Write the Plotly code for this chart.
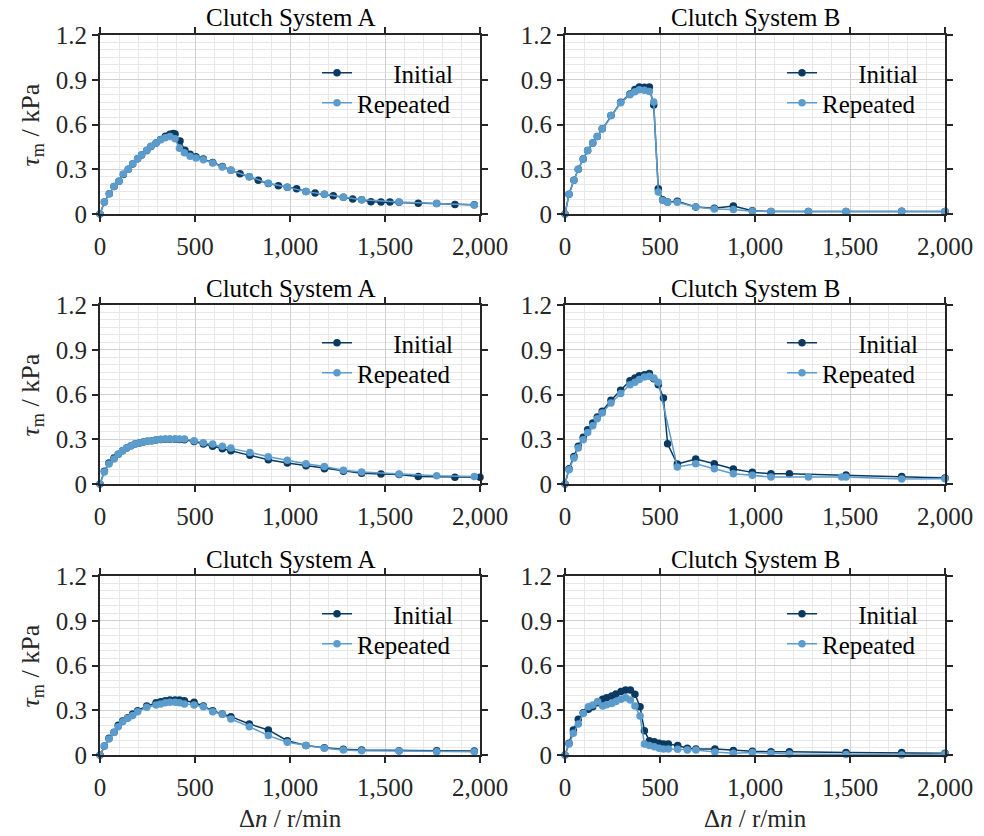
import plotly.graph_objects as go

# ---------------- data ----------------
x_ticks = [0, 500, 1000, 1500, 2000]
x_tick_labels = ["0", "500", "1,000", "1,500", "2,000"]
y_ticks = [0, 0.3, 0.6, 0.9, 1.2]
y_tick_labels = ["0", "0.3", "0.6", "0.9", "1.2"]
series_names = ["Initial", "Repeated"]
panel_titles = ["Clutch System A", "Clutch System B"] * 3

# Row 1, Clutch System A
a1_init_x = [0, 23, 49, 74, 100, 123, 149, 172, 198, 219, 246, 268, 295, 319, 344, 368, 385, 395, 421, 447,
             474, 505, 544, 593, 644, 689, 737, 786, 833, 886, 939, 986, 1035, 1084, 1132, 1181, 1228, 1281,
             1330, 1377, 1426, 1479, 1526, 1574, 1675, 1772, 1868, 1970]
a1_init_y = [0, 0.08, 0.136, 0.185, 0.22, 0.265, 0.30, 0.335, 0.37, 0.395, 0.425, 0.452, 0.476, 0.50, 0.522,
             0.535, 0.54, 0.536, 0.49, 0.427, 0.40, 0.383, 0.368, 0.345, 0.318, 0.293, 0.27, 0.25, 0.226, 0.205,
             0.19, 0.179, 0.17, 0.15, 0.14, 0.132, 0.123, 0.112, 0.10, 0.095, 0.082, 0.08, 0.08, 0.078, 0.072,
             0.07, 0.063, 0.062]
a1_rep_x = [0, 23, 49, 74, 100, 123, 149, 172, 198, 219, 246, 268, 295, 319, 344, 368, 395, 418, 444, 474, 505,
            544, 593, 644, 689, 786, 886, 986, 1084, 1181, 1281, 1377, 1574, 1772, 1970]
a1_rep_y = [0, 0.08, 0.136, 0.185, 0.22, 0.268, 0.30, 0.337, 0.37, 0.395, 0.427, 0.454, 0.476, 0.498, 0.512,
            0.52, 0.505, 0.44, 0.41, 0.387, 0.375, 0.364, 0.342, 0.315, 0.293, 0.25, 0.206, 0.179, 0.15, 0.132,
            0.112, 0.096, 0.08, 0.07, 0.06]

# Row 1, Clutch System B
b1_init_x = [0, 21, 47, 70, 96, 119, 146, 170, 196, 242, 293, 342, 368, 391, 418, 444, 467, 491, 514, 540, 591,
             688, 786, 886, 986, 1084, 1281, 1479, 1772, 2000]
b1_init_y = [0, 0.132, 0.226, 0.30, 0.369, 0.425, 0.476, 0.52, 0.572, 0.66, 0.749, 0.805, 0.834, 0.851, 0.849,
             0.851, 0.73, 0.17, 0.096, 0.08, 0.085, 0.047, 0.038, 0.054, 0.022, 0.016, 0.016, 0.016, 0.018, 0.016]
b1_rep_x = [0, 21, 47, 70, 96, 119, 146, 170, 196, 242, 293, 342, 368, 391, 418, 444, 467, 491, 514, 540, 591,
            688, 786, 886, 986, 1084, 1281, 1479, 1772, 2000]
b1_rep_y = [0, 0.132, 0.226, 0.30, 0.369, 0.425, 0.476, 0.52, 0.572, 0.66, 0.745, 0.80, 0.82, 0.833, 0.83,
            0.822, 0.75, 0.148, 0.09, 0.078, 0.078, 0.047, 0.034, 0.031, 0.018, 0.016, 0.016, 0.016, 0.018, 0.016]

# Row 2, Clutch System A
a2_init_x = [0, 23, 47, 74, 96, 119, 140, 163, 184, 207, 228, 249, 272, 295, 319, 344, 368, 395, 418, 444, 495,
             544, 593, 644, 689, 789, 886, 986, 1084, 1181, 1281, 1377, 1479, 1574, 1675, 1868, 2000]
a2_init_y = [0, 0.085, 0.14, 0.174, 0.2, 0.223, 0.241, 0.257, 0.268, 0.275, 0.282, 0.286, 0.29, 0.295, 0.298,
             0.30, 0.30, 0.30, 0.298, 0.296, 0.285, 0.268, 0.253, 0.237, 0.223, 0.192, 0.163, 0.141, 0.123, 0.103,
             0.085, 0.072, 0.067, 0.063, 0.051, 0.045, 0.045]
a2_rep_x = [0, 23, 47, 74, 96, 119, 140, 163, 184, 207, 228, 249, 272, 295, 319, 344, 368, 395, 418, 444, 495,
            544, 593, 644, 689, 789, 886, 986, 1084, 1181, 1281, 1377, 1574, 1772, 1970]
a2_rep_y = [0, 0.08, 0.134, 0.168, 0.2, 0.223, 0.241, 0.257, 0.268, 0.275, 0.282, 0.286, 0.29, 0.295, 0.30,
            0.302, 0.302, 0.302, 0.302, 0.302, 0.29, 0.277, 0.268, 0.253, 0.241, 0.212, 0.183, 0.159, 0.136, 0.118,
            0.092, 0.08, 0.067, 0.056, 0.051]

# Row 2, Clutch System B
b2_init_x = [0, 21, 47, 70, 96, 119, 146, 170, 196, 242, 293, 342, 368, 391, 418, 444, 467, 491, 518, 540, 591,
             688, 786, 886, 986, 1084, 1181, 1479, 1772, 2000]
b2_init_y = [0, 0.103, 0.185, 0.253, 0.313, 0.364, 0.409, 0.449, 0.487, 0.561, 0.628, 0.693, 0.711, 0.726,
             0.733, 0.74, 0.706, 0.666, 0.577, 0.27, 0.134, 0.168, 0.136, 0.10, 0.078, 0.069, 0.069, 0.06, 0.051,
             0.04]
b2_rep_x = [0, 21, 47, 70, 96, 119, 146, 170, 196, 242, 293, 342, 368, 391, 418, 444, 467, 491, 591, 688, 786,
            886, 986, 1084, 1281, 1456, 1479, 1772, 2000]
b2_rep_y = [0, 0.096, 0.174, 0.241, 0.297, 0.346, 0.391, 0.438, 0.476, 0.543, 0.606, 0.666, 0.682, 0.70,
            0.717, 0.722, 0.711, 0.682, 0.114, 0.136, 0.103, 0.069, 0.058, 0.047, 0.047, 0.047, 0.047, 0.034,
            0.036]

# Row 3, Clutch System A
a3_init_x = [0, 23, 47, 74, 96, 119, 146, 172, 198, 246, 295, 319, 344, 368, 395, 418, 444, 495, 544, 593, 644,
             689, 786, 886, 986, 1084, 1181, 1281, 1377, 1574, 1772, 1970]
a3_init_y = [0, 0.06, 0.112, 0.152, 0.2, 0.228, 0.25, 0.275, 0.297, 0.328, 0.35, 0.357, 0.364, 0.369, 0.369,
             0.369, 0.364, 0.353, 0.328, 0.297, 0.275, 0.257, 0.208, 0.168, 0.096, 0.063, 0.049, 0.038, 0.034,
             0.029, 0.029, 0.027]
a3_rep_x = [0, 23, 47, 74, 96, 119, 146, 172, 198, 246, 295, 319, 344, 368, 395, 418, 444, 495, 544, 593, 644,
            689, 786, 886, 986, 1084, 1181, 1281, 1377, 1574, 1772, 1970]
a3_rep_y = [0, 0.06, 0.107, 0.15, 0.19, 0.223, 0.246, 0.264, 0.29, 0.32, 0.335, 0.342, 0.35, 0.353, 0.353,
            0.35, 0.342, 0.335, 0.324, 0.29, 0.273, 0.241, 0.19, 0.13, 0.085, 0.063, 0.045, 0.034, 0.029, 0.027,
            0.022, 0.022]

# Row 3, Clutch System B
b3_init_x = [0, 21, 44, 70, 96, 123, 146, 172, 198, 219, 246, 268, 295, 319, 344, 368, 395, 418, 444, 470, 495,
             519, 544, 593, 644, 689, 789, 886, 986, 1084, 1181, 1479, 1772, 2000]
b3_init_y = [0, 0.078, 0.168, 0.239, 0.284, 0.306, 0.324, 0.351, 0.373, 0.384, 0.396, 0.409, 0.425, 0.436,
             0.436, 0.407, 0.324, 0.163, 0.096, 0.089, 0.078, 0.074, 0.074, 0.063, 0.045, 0.04, 0.04, 0.031, 0.025,
             0.022, 0.022, 0.016, 0.016, 0.011]
b3_rep_x = [0, 21, 44, 70, 96, 123, 146, 172, 198, 219, 246, 268, 295, 319, 344, 368, 395, 418, 444, 470, 495,
            519, 544, 593, 644, 689, 789, 886, 986, 1084, 1181, 1479, 1772, 2000]
b3_rep_y = [0, 0.074, 0.145, 0.208, 0.279, 0.324, 0.335, 0.358, 0.328, 0.337, 0.346, 0.358, 0.373, 0.384,
            0.369, 0.328, 0.261, 0.074, 0.063, 0.056, 0.045, 0.04, 0.04, 0.038, 0.034, 0.034, 0.02, 0.011, 0.016,
            0.011, 0.007, 0.004, 0.0, 0.007]

panels = [
    (a1_init_x, a1_init_y, a1_rep_x, a1_rep_y),
    (b1_init_x, b1_init_y, b1_rep_x, b1_rep_y),
    (a2_init_x, a2_init_y, a2_rep_x, a2_rep_y),
    (b2_init_x, b2_init_y, b2_rep_x, b2_rep_y),
    (a3_init_x, a3_init_y, a3_rep_x, a3_rep_y),
    (b3_init_x, b3_init_y, b3_rep_x, b3_rep_y),
]

# ---------------- style ----------------
W, H = 984, 836
FONT = "Liberation Serif, Times New Roman, serif"
FS = 25
DARK = "#0a3a60"
LIGHT = "#5c9ccc"
AX = "#262626"
col_px = [(100, 480), (565, 945)]
row_px = [(35, 214), (305, 484), (576, 755)]
legend_line_px = [323, 788]


def fx(px):
    return px / W


def fy(py):
    return 1 - py / H


fig = go.Figure()
layout = dict(
    width=W, height=H, margin=dict(l=0, r=0, t=0, b=0),
    paper_bgcolor="white", plot_bgcolor="white",
    font=dict(family=FONT, size=FS, color=AX),
    showlegend=True,
)
annotations = []

for k, (xi, yi, xr, yr) in enumerate(panels):
    n = k + 1
    r, c = divmod(k, 2)
    x0, x1 = col_px[c]
    y0, y1 = row_px[r]
    xa = "x" if n == 1 else f"x{n}"
    ya = "y" if n == 1 else f"y{n}"
    lg_a = f"legend{2 * k + 1}" if k > 0 else "legend"
    lg_b = f"legend{2 * k + 2}"
    fig.add_trace(go.Scatter(x=xi, y=yi, mode="lines+markers",
                             name="\u00a0" * 5 + "\u2009" + series_names[0],
                             line=dict(color=DARK, width=1.5), marker=dict(color=DARK, size=7.5),
                             xaxis=xa, yaxis=ya, legend=lg_a, cliponaxis=False))
    fig.add_trace(go.Scatter(x=xr, y=yr, mode="lines+markers", name=series_names[1],
                             line=dict(color=LIGHT, width=1.5), marker=dict(color=LIGHT, size=7.5),
                             xaxis=xa, yaxis=ya, legend=lg_b, cliponaxis=False))
    common = dict(showline=True, linecolor=AX, linewidth=2, mirror="ticks", ticks="outside",
                  ticklen=6, tickwidth=2, tickcolor=AX, showgrid=True, gridcolor="#d0d0d0", gridwidth=1,
                  zeroline=False, tickfont=dict(family=FONT, size=FS, color=AX), automargin=False)
    layout["xaxis" if n == 1 else f"xaxis{n}"] = dict(
        domain=[fx(x0), fx(x1)], anchor=ya, range=[0, 2000], tickmode="array",
        tickvals=x_ticks, ticktext=x_tick_labels,
        minor=dict(dtick=100, showgrid=True, gridcolor="#e8e8e8", gridwidth=1, ticks=""),
        ticklabelstandoff=3, **common)
    layout["yaxis" if n == 1 else f"yaxis{n}"] = dict(
        domain=[fy(y1), fy(y0)], anchor=xa, range=[0, 1.2], tickmode="array",
        tickvals=y_ticks, ticktext=y_tick_labels,
        minor=dict(dtick=0.05, showgrid=True, gridcolor="#e8e8e8", gridwidth=1, ticks=""),
        **common)
    leg_common = dict(xanchor="left", yanchor="top", bgcolor="rgba(0,0,0,0)", borderwidth=0,
                      font=dict(family=FONT, size=FS, color="#000000"))
    lx = legend_line_px[c] - 6
    layout[lg_a] = dict(x=fx(lx), y=fy(y0 + 38 - 23), **leg_common)
    layout[lg_b] = dict(x=fx(lx), y=fy(y0 + 68 - 23), **leg_common)
    # panel title
    annotations.append(dict(text=panel_titles[k], x=fx((x0 + x1) / 2), y=fy(y0 - 17),
                            xref="paper", yref="paper", xanchor="center", yanchor="middle",
                            showarrow=False, borderpad=0,
                            font=dict(family=FONT, size=FS, color="#000000")))
    if c == 0:
        annotations.append(dict(text="<i>τ</i><sub>m</sub> / kPa", x=fx(31), y=fy((y0 + y1) / 2),
                                xref="paper", yref="paper", xanchor="center", yanchor="middle",
                                textangle=-90, showarrow=False,
                                font=dict(family=FONT, size=26, color=AX)))
    if r == 2:
        annotations.append(dict(text="Δ<i>n</i> / r/min", x=fx((x0 + x1) / 2), y=fy(818),
                                xref="paper", yref="paper", xanchor="center", yanchor="middle",
                                showarrow=False, font=dict(family=FONT, size=FS, color=AX)))

layout["annotations"] = annotations
fig.update_layout(**layout)
# remove the browser's default 8px page margin so the figure sits at the window's top-left corner
fig.write_html("out.html", config={"displayModeBar": False},
               post_script="document.body.style.margin='0';")
